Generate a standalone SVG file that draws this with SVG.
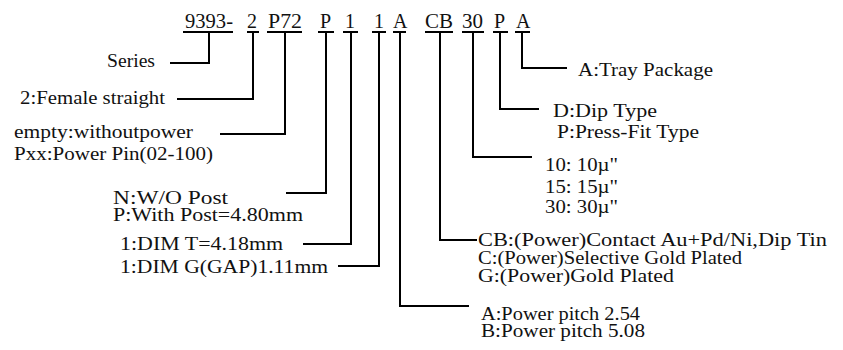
<svg xmlns="http://www.w3.org/2000/svg" width="843" height="350" viewBox="0 0 843 350">
<style>
text{font-family:"Liberation Serif","Times New Roman",serif;fill:#111}
.code{font-size:20px}
.lbl{font-size:18px}
.ln{fill:none;stroke:#000;stroke-width:2}
</style>
<rect width="843" height="350" fill="#fff"/>
<g id="codes">
<text class="code" x="185" y="28" textLength="48" lengthAdjust="spacingAndGlyphs">9393-</text>
<text class="code" x="247" y="28">2</text>
<text class="code" x="268" y="28" textLength="34" lengthAdjust="spacingAndGlyphs">P72</text>
<text class="code" x="320" y="28">P</text>
<text class="code" x="345" y="28">1</text>
<text class="code" x="374" y="28">1</text>
<text class="code" x="393" y="28">A</text>
<text class="code" x="425" y="28" textLength="28" lengthAdjust="spacingAndGlyphs">CB</text>
<text class="code" x="462" y="28" textLength="21" lengthAdjust="spacingAndGlyphs">30</text>
<text class="code" x="494" y="28">P</text>
<text class="code" x="516" y="28">A</text>
</g>
<g id="connectors">
<path class="ln" d="M183 32H233M209 32V63H170"/>
<path class="ln" d="M247 32H259M253 32V99H177"/>
<path class="ln" d="M267 32H302M285 32V134H220"/>
<path class="ln" d="M318 32H334M326 32V193H286"/>
<path class="ln" d="M343 32H358M351 32V244H303"/>
<path class="ln" d="M372 32H386M379 32V266H338"/>
<path class="ln" d="M393 32H406M400 32V306H469"/>
<path class="ln" d="M425 32H453M440 32V240H477"/>
<path class="ln" d="M462 32H484M473 32V157H532"/>
<path class="ln" d="M493 32H508M500 32V109H539"/>
<path class="ln" d="M515 32H530M522 32V68H567"/>
</g>
<g id="series"><text class="lbl" x="107" y="67" textLength="48" lengthAdjust="spacingAndGlyphs">Series</text></g>
<g id="type"><text class="lbl" x="20" y="104" textLength="145" lengthAdjust="spacingAndGlyphs">2:Female straight</text></g>
<g id="power">
<text class="lbl" x="14" y="138" textLength="179" lengthAdjust="spacingAndGlyphs">empty:withoutpower</text>
<text class="lbl" x="14" y="160" textLength="199" lengthAdjust="spacingAndGlyphs">Pxx:Power Pin(02-100)</text>
</g>
<g id="post">
<text class="lbl" x="113" y="204" textLength="115" lengthAdjust="spacingAndGlyphs">N:W/O Post</text>
<text class="lbl" x="113" y="221" textLength="190" lengthAdjust="spacingAndGlyphs">P:With Post=4.80mm</text>
</g>
<g id="dimT"><text class="lbl" x="120" y="250" textLength="163" lengthAdjust="spacingAndGlyphs">1:DIM T=4.18mm</text></g>
<g id="dimG"><text class="lbl" x="120" y="273" textLength="208" lengthAdjust="spacingAndGlyphs">1:DIM G(GAP)1.11mm</text></g>
<g id="pitch">
<text class="lbl" x="481" y="320" textLength="159" lengthAdjust="spacingAndGlyphs">A:Power pitch 2.54</text>
<text class="lbl" x="481" y="337" textLength="164" lengthAdjust="spacingAndGlyphs">B:Power pitch 5.08</text>
</g>
<g id="plating">
<text class="lbl" x="478" y="246" textLength="349" lengthAdjust="spacingAndGlyphs">CB:(Power)Contact Au+Pd/Ni,Dip Tin</text>
<text class="lbl" x="478" y="264" textLength="264" lengthAdjust="spacingAndGlyphs">C:(Power)Selective Gold Plated</text>
<text class="lbl" x="478" y="282" textLength="196" lengthAdjust="spacingAndGlyphs">G:(Power)Gold Plated</text>
</g>
<g id="thickness">
<text class="lbl" x="545" y="171" textLength="73" lengthAdjust="spacingAndGlyphs">10: 10µ"</text>
<text class="lbl" x="545" y="193" textLength="73" lengthAdjust="spacingAndGlyphs">15: 15µ"</text>
<text class="lbl" x="545" y="213" textLength="73" lengthAdjust="spacingAndGlyphs">30: 30µ"</text>
</g>
<g id="termination">
<text class="lbl" x="553" y="117" textLength="104" lengthAdjust="spacingAndGlyphs">D:Dip Type</text>
<text class="lbl" x="557" y="138" textLength="142" lengthAdjust="spacingAndGlyphs">P:Press-Fit Type</text>
</g>
<g id="package"><text class="lbl" x="578" y="76" textLength="135" lengthAdjust="spacingAndGlyphs">A:Tray Package</text></g>
</svg>
